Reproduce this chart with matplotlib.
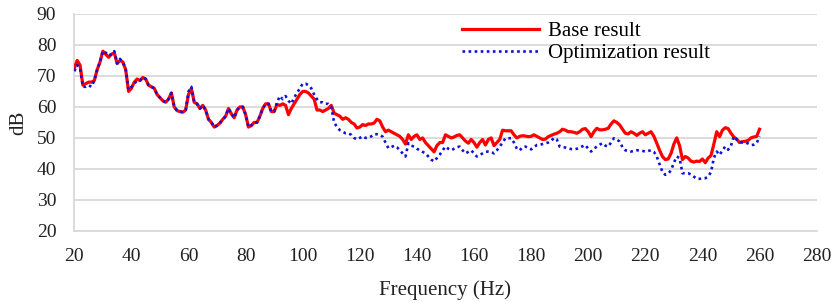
import numpy as np
import matplotlib.pyplot as plt

# frequency axis, 1 Hz steps from 20 to 260 Hz
freq = np.arange(20, 261)

base_result = [
    72.5, 75, 73.5, 67, 67.5, 68, 68, 68.5, 72, 74.5,          # 20-29
    78, 77, 76, 77, 77.5, 74, 75, 74.5, 72, 65,                # 30-39
    66, 68, 69, 68.5, 69.5, 69, 67, 66.5, 66, 64,              # 40-49
    63, 62, 61.5, 62.5, 64.5, 60, 58.8, 58.5, 58.3, 59,        # 50-59
    64, 66, 61.5, 61, 59.5, 60.5, 59, 56, 55, 53.5,            # 60-69
    54, 54.8, 56, 57, 59.5, 57.8, 56.5, 59, 60, 60,            # 70-79
    57.5, 53.5, 54, 55, 55, 57, 59.5, 61, 61, 58.5,            # 80-89
    58.5, 60.8, 60.5, 61, 60.5, 57.5, 59.5, 61, 62.5, 64,      # 90-99
    65, 65, 64.5, 63.5, 62.5, 59, 59, 58.5, 59, 59.5,          # 100-109
    60.5, 58, 57.5, 57, 56, 56.5, 56, 55, 54.5, 53.2,          # 110-119
    53.5, 54.3, 54, 54.5, 54.5, 54.8, 56, 55.5, 53.5, 52,      # 120-129
    52.5, 52, 51.5, 51, 50.5, 49.5, 48, 51, 49.5, 50.5,        # 130-139
    51, 49.5, 50, 48.5, 47.5, 46.5, 45.5, 47.5, 48.5, 48.5,    # 140-149
    51, 50.5, 50, 50.3, 50.8, 51, 50, 49, 48.3, 49.5,          # 150-159
    48.5, 47, 48.5, 49.5, 47.7, 49.5, 50, 47.5, 48.5, 49.5,    # 160-169
    52.5, 52.3, 52.3, 52.3, 51, 50, 50.5, 50.7, 50.6, 50.4,    # 170-179
    50.5, 51, 50.5, 50, 49.5, 49.6, 50.4, 50.8, 51.2, 51.5,    # 180-189
    52, 52.8, 52.5, 52, 52, 51.8, 51.5, 52, 52.8, 53,          # 190-199
    52, 50.4, 52, 53.1, 52.6, 52.6, 52.8, 53.1, 54.5, 55.5,    # 200-209
    55, 54.2, 52.8, 51.5, 51.3, 52, 51.5, 50.8, 51.5, 52,      # 210-219
    51, 51.5, 52, 50.5, 48.3, 46, 44, 43, 43.2, 45,            # 220-229
    48, 50, 47.5, 43, 44, 43.5, 42.5, 42.2, 42.5, 42.4,        # 230-239
    43.2, 42, 43.5, 44.3, 48, 52, 50.4, 52.5, 53.3, 53,        # 240-249
    51.5, 50.3, 49.6, 48.5, 48.8, 48.9, 49.2, 50, 50.3, 50.5,  # 250-259
    52.8,                                                      # 260
]

optimization_result = [
    71.5, 73.5, 72.5, 66.5, 66.5, 67, 66.5, 68.5, 72, 74.5,    # 20-29
    78, 77.5, 76.5, 77, 78, 74, 75.5, 74.5, 72, 65.5,          # 30-39
    66.5, 67.5, 68.5, 68.5, 69.5, 69, 67, 66.5, 66, 64,        # 40-49
    63, 62, 61.5, 62.5, 64.5, 60, 58.8, 58.5, 58.3, 59,        # 50-59
    65, 66.5, 61.5, 61, 59.5, 60.5, 59, 56, 55, 53.5,          # 60-69
    54, 54.8, 56, 57, 59.5, 57.8, 56.5, 59, 60, 60,            # 70-79
    57.5, 53.5, 54, 55, 55, 57, 59.5, 61, 61, 58.5,            # 80-89
    58.5, 61.5, 63.5, 62.5, 63.5, 62, 61, 63, 64.5, 66,        # 90-99
    67.5, 67.5, 67, 66, 64, 62.5, 61.5, 61.5, 61, 61,          # 100-109
    60, 55, 53.5, 52.5, 52, 51.5, 51.5, 51, 50, 49.5,          # 110-119
    50, 50.5, 50, 50, 50.5, 51.2, 51.2, 51, 50.4, 48.5,        # 120-129
    46.7, 47, 47.5, 47, 46, 45, 44, 48.3, 47.5, 47.2,          # 130-139
    46.5, 46, 45.5, 45, 44, 43, 42.4, 43.5, 44.6, 46,          # 140-149
    47.2, 46.5, 46, 46.5, 47, 47.2, 46, 45, 45.5, 46,          # 150-159
    45, 44, 44.5, 45, 45.5, 45.6, 45.5, 45, 46, 47.2,          # 160-169
    48.5, 49.9, 49.9, 49.9, 48.5, 46.5, 46, 47, 47.2, 46.8,    # 170-179
    46.3, 47, 47.7, 47.8, 48, 48.3, 48.5, 49, 50, 49.5,        # 180-189
    47.2, 47, 46.9, 46.7, 46.4, 46.3, 46.5, 46.8, 47.3, 47.7,  # 190-199
    46.5, 45.6, 46.5, 47.2, 47.8, 48.3, 47.5, 47.2, 48.5, 49.9,  # 200-209
    49.5, 48.8, 47, 46, 45.8, 45.6, 45.8, 46, 46, 45.8,        # 210-219
    45.6, 45.8, 46, 45.5, 44, 41.5, 39, 38.1, 38.5, 39.5,      # 220-229
    42, 44, 43.5, 38.6, 38.6, 38.6, 38.2, 37.5, 36.8, 36.8,    # 230-239
    36.9, 37, 37.5, 39, 43.5, 45.6, 44.5, 46, 47.2, 46.2,      # 240-249
    47.5, 50.5, 49.5, 48.8, 48.5, 48.5, 48.2, 47.7, 47.8, 48.3,  # 250-259
    50.5,                                                      # 260
]

x_ticks = np.arange(20, 281, 20)
y_ticks = np.arange(20, 91, 10)

plt.rcParams['font.family'] = ['Liberation Serif', 'DejaVu Serif']

fig = plt.figure(figsize=(8.35, 3.03), dpi=100)
ax = fig.add_axes([0.089, 0.238, 0.889, 0.716])

ax.plot(freq, base_result, color='#ff0000', lw=2.3, label='Base result', zorder=3)
ax.plot(freq, optimization_result, color='#1010d8', lw=1.9,
        linestyle=(0, (1, 1.3)), label='Optimization result', zorder=4)

ax.set_xlim(20, 280)
ax.set_ylim(20, 90)
ax.set_xticks(x_ticks)
ax.set_yticks(y_ticks)
ax.tick_params(length=0, labelsize=14, colors='#222222')
ax.tick_params(axis='x', pad=12)
ax.tick_params(axis='y', pad=13)
ax.yaxis.grid(True, color='#d9d9d9', lw=1.3)
ax.set_axisbelow(True)

for s in ['top', 'right']:
    ax.spines[s].set_visible(False)
for s in ['left', 'bottom']:
    ax.spines[s].set_color('#d9d9d9')
    ax.spines[s].set_linewidth(1.3)

ax.set_xlabel('Frequency (Hz)', fontsize=15, color='#222222', labelpad=11)
ax.set_ylabel('dB', fontsize=15, color='#222222', labelpad=6)

ax.legend(loc='upper left', bbox_to_anchor=(0.522, 0.965), frameon=False,
          fontsize=15, handlelength=3.7, handletextpad=0.45,
          labelspacing=0.12, borderaxespad=0, borderpad=0)

fig.savefig('out.png', dpi=100)
